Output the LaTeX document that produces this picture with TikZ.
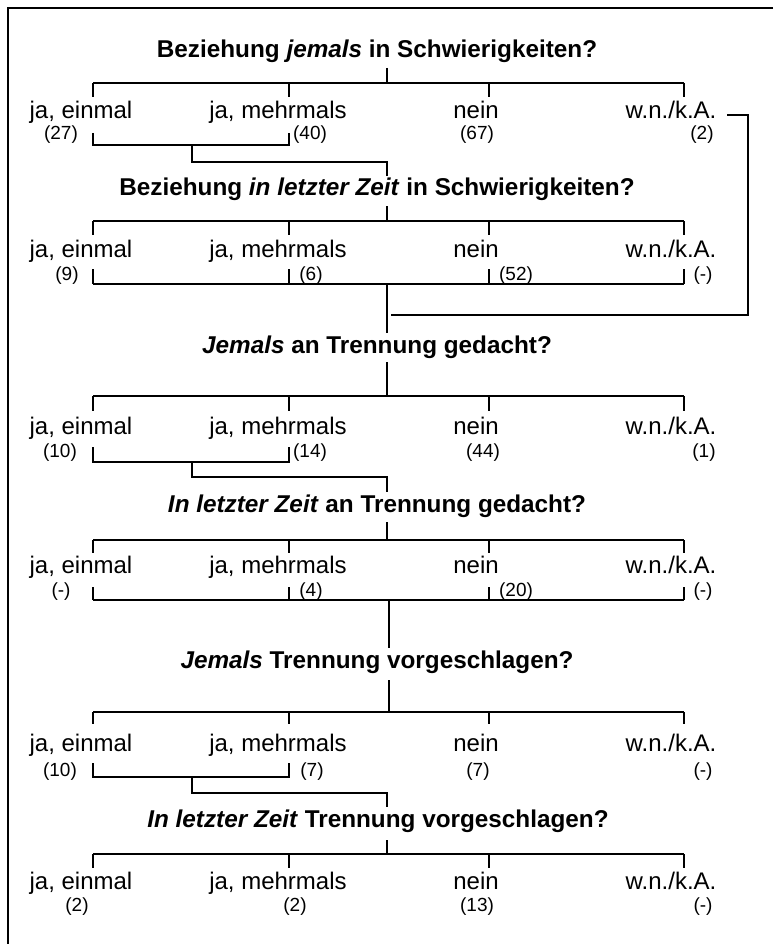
\documentclass[tikz,border=0pt]{standalone}
\usepackage{fontspec}
\setmainfont{Liberation Sans}
\begin{document}
\begin{tikzpicture}[x=1pt,y=-1pt,
  line/.style={line width=2pt, line cap=butt, line join=miter},
  frame/.style={line width=2.5pt},
  qtitle/.style={font=\fontsize{24.3}{28}\selectfont\bfseries, anchor=base, inner sep=0pt},
  lab/.style={font=\fontsize{24}{28}\selectfont, anchor=base, inner sep=0pt},
  cnt/.style={font=\fontsize{19}{22}\selectfont, anchor=base, inner sep=0pt}]
\useasboundingbox (0,0) rectangle (773,944);
\draw[frame] (773,8) -- (8,8) -- (8,944);

% ---------- generic row: horizontal bar, four ticks, labels ----------
\newcommand\mkrow[4]{% #1 row id, #2 bar y, #3 tick bottom y, #4 label baseline
  \foreach \c/\x in {1/93,2/289,3/489,4/684}{
    \coordinate (h#1-\c) at (\x,#2);
    \coordinate (k#1-\c) at (\x,#3);
    \draw[line] (h#1-\c) -- (k#1-\c);
  }
  \draw[line] (h#1-1) -- (h#1-4);
  \node[lab] (la#1) at (81,#4)  {ja, einmal};
  \node[lab] (lb#1) at (278,#4) {ja, mehrmals};
  \node[lab] (lc#1) at (476,#4) {nein};
  \node[lab] (ld#1) at (671,#4) {w.n./k.A.};
}
% bracket joining the two "ja" answers, continued to the next question
\newcommand\jabracket[6]{% #1 id, #2 tick top, #3 bracket y, #4 join y, #5 stem end y, #6 stem x
  \coordinate (ja#1) at (93,#2);
  \coordinate (jb#1) at (289,#2);
  \coordinate (jm#1) at (192,#3);
  \coordinate (jn#1) at (192,#4);
  \coordinate (je#1) at (#6,#5);
  \draw[line] (ja#1) -- (ja#1 |- jm#1) -- (jb#1 |- jm#1) -- (jb#1);
  \draw[line] (jm#1) -- (jn#1) -- (jn#1 -| je#1) -- (je#1);
}
% bracket joining all four answers
\newcommand\allbracket[5]{% #1 id, #2 tick top, #3 bracket y, #4 stem end y, #5 stem x
  \foreach \c/\x in {1/93,2/289,3/489,4/684}{
    \coordinate (ba#1-\c) at (\x,#2);
    \coordinate (bb#1-\c) at (\x,#3);
    \draw[line] (ba#1-\c) -- (bb#1-\c);
  }
  \draw[line] (bb#1-1) -- (bb#1-4);
  \coordinate (bs#1) at (#5,#3);
  \coordinate (be#1) at (#5,#4);
  \draw[line] (bs#1) -- (be#1);
}

% ---------- question 1 ----------
\node[qtitle] (t1) at (377,58) {Beziehung \textit{jemals} in Schwierigkeiten?};
\coordinate (s1) at (387,68);
\mkrow{1}{83}{97}{119}
\draw[line] (s1) -- (s1 |- h1-1);
\node[cnt] (c1a) at (61,140)  {(27)};
\node[cnt] (c1b) at (310,140) {(40)};
\node[cnt] (c1c) at (477,140) {(67)};
\node[cnt] (c1d) at (702,140) {(2)};
\jabracket{1}{133}{145}{162}{176}{387}

% ---------- question 2 ----------
\node[qtitle] (t2) at (377,196) {Beziehung \textit{in letzter Zeit} in Schwierigkeiten?};
\coordinate (s2) at (387,206);
\mkrow{2}{221}{235}{257}
\draw[line] (s2) -- (s2 |- h2-1);
\node[cnt] (c2a) at (67,280)  {(9)};
\node[cnt] (c2b) at (311,280) {(6)};
\node[cnt] (c2c) at (516,280) {(52)};
\node[cnt] (c2d) at (703,280) {(-)};
\allbracket{2}{269}{284}{333}{387}

% w.n./k.A. of question 1 joins below question 2
\coordinate (w1) at (727,115);
\coordinate (w2) at (748,315);
\coordinate (w3) at (391,315);
\draw[line] (w1) -- (w1 -| w2) -- (w2) -- (w3);

% ---------- question 3 ----------
\node[qtitle] (t3) at (377,353) {\textit{Jemals} an Trennung gedacht?};
\coordinate (s3) at (387,362);
\mkrow{3}{396}{411}{434}
\draw[line] (s3) -- (s3 |- h3-1);
\node[cnt] (c3a) at (60,457)  {(10)};
\node[cnt] (c3b) at (310,457) {(14)};
\node[cnt] (c3c) at (483,457) {(44)};
\node[cnt] (c3d) at (704,457) {(1)};
\jabracket{3}{447}{462}{477}{492}{387}

% ---------- question 4 ----------
\node[qtitle] (t4) at (377,512) {\textit{In letzter Zeit} an Trennung gedacht?};
\coordinate (s4) at (387,522);
\mkrow{4}{540}{553}{573}
\draw[line] (s4) -- (s4 |- h4-1);
\node[cnt] (c4a) at (61,596)  {(-)};
\node[cnt] (c4b) at (311,596) {(4)};
\node[cnt] (c4c) at (516,596) {(20)};
\node[cnt] (c4d) at (703,596) {(-)};
\allbracket{4}{587}{600}{648}{389}

% ---------- question 5 ----------
\node[qtitle] (t5) at (377,668) {\textit{Jemals} Trennung vorgeschlagen?};
\coordinate (s5) at (389,680);
\mkrow{5}{712}{724}{751}
\draw[line] (s5) -- (s5 |- h5-1);
\node[cnt] (c5a) at (60,776)  {(10)};
\node[cnt] (c5b) at (312,776) {(7)};
\node[cnt] (c5c) at (478,776) {(7)};
\node[cnt] (c5d) at (703,776) {(-)};
\jabracket{5}{763}{777}{793}{807}{387}

% ---------- question 6 ----------
\node[qtitle] (t6) at (378,827) {\textit{In letzter Zeit} Trennung vorgeschlagen?};
\coordinate (s6) at (387,840);
\mkrow{6}{854}{868}{889}
\draw[line] (s6) -- (s6 |- h6-1);
\node[cnt] (c6a) at (77,911)  {(2)};
\node[cnt] (c6b) at (295,911) {(2)};
\node[cnt] (c6c) at (477,911) {(13)};
\node[cnt] (c6d) at (703,911) {(-)};
\end{tikzpicture}
\end{document}
